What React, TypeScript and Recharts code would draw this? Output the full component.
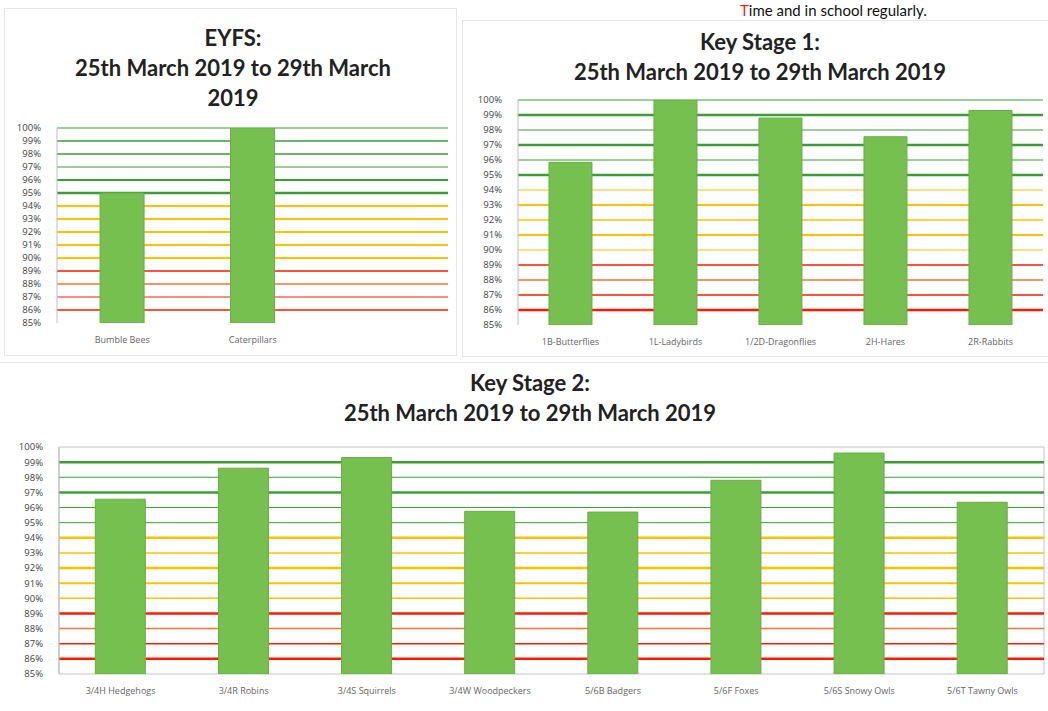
import { BarChart, Bar, XAxis, YAxis, ReferenceLine, ReferenceArea } from 'recharts';

// attendance % per class, week 25th-29th March 2019
const eyfsClasses = ['Bumble Bees', 'Caterpillars'];
const eyfsAttendance = [95.0, 100];

const ks1Classes = ['1B-Butterflies', '1L-Ladybirds', '1/2D-Dragonflies', '2H-Hares', '2R-Rabbits'];
const ks1Attendance = [95.85, 100, 98.8, 97.55, 99.3];

const ks2Classes = [
  '3/4H Hedgehogs',
  '3/4R Robins',
  '3/4S Squirrels',
  '3/4W Woodpeckers',
  '5/6B Badgers',
  '5/6F Foxes',
  '5/6S Snowy Owls',
  '5/6T Tawny Owls',
];
const ks2Attendance = [96.55, 98.6, 99.3, 95.75, 95.7, 97.8, 99.6, 96.35];

const percentTicks = [85, 86, 87, 88, 89, 90, 91, 92, 93, 94, 95, 96, 97, 98, 99, 100];
const dateRange = '25th March 2019 to 29th March 2019';

// line thickness of each coloured band line, per chart
const eyfsWidths: Record<number, number> = {
  100: 1, 99: 1.5, 98: 1.5, 97: 1, 96: 2, 95: 2.5, 94: 2, 93: 2, 92: 2, 91: 2, 90: 2, 89: 1.5, 88: 1.5, 87: 1, 86: 1.5,
};
const ks1Widths: Record<number, number> = {
  100: 1, 99: 2.5, 98: 1, 97: 2.5, 96: 1, 95: 2.5, 94: 1, 93: 2, 92: 1.5, 91: 2, 90: 1, 89: 1.5, 88: 1.5, 87: 1.5, 86: 2.5,
};
const ks2Widths: Record<number, number> = {
  99: 2.5, 98: 1, 97: 2.5, 96: 1, 95: 1, 94: 2.5, 93: 1.5, 92: 2.5, 91: 2, 90: 1.5, 89: 2.5, 88: 1.5, 87: 1.5, 86: 2.5,
};

function levelColor(v: number) {
  if (v >= 95) return '#3d9c38';
  if (v >= 90) return '#ffc000';
  if (v === 88) return '#f2743a';
  return '#ff1a00';
}

const pct = (v: number) => `${v}%`;

function AttendanceChart({ classes, values, widths, width, height, margin, padRight = 0, gap, boxed = false }: any) {
  const data = classes.map((c: string, i: number) => ({ name: c, value: values[i] }));
  const levels = percentTicks.filter((t) => widths[t] !== undefined);
  return (
    <BarChart width={width} height={height} data={data} margin={margin} barCategoryGap={gap}>
      <XAxis
        dataKey="name"
        axisLine={false}
        tickLine={false}
        tickSize={0}
        tickMargin={14}
        interval={0}
        padding={{ left: 0, right: padRight }}
        height={25}
        tick={{ fontSize: 9, fill: '#666', fontFamily: 'Open Sans' }}
      />
      <YAxis
        domain={[85, 100]}
        ticks={percentTicks}
        interval={0}
        allowDataOverflow
        tickFormatter={pct}
        width={45}
        tickLine={false}
        tickMargin={10}
        axisLine={{ stroke: '#bdbdbd' }}
        tick={{ fontSize: 9.5, fill: '#444', fontFamily: 'Open Sans' }}
      />
      {boxed && <ReferenceArea y1={85} y2={100} fill="none" stroke="#c4c4c4" strokeWidth={1} zIndex={0} />}
      {levels.map((lv) => (
        <ReferenceLine key={lv} y={lv} stroke={levelColor(lv)} strokeWidth={widths[lv]} zIndex={0} />
      ))}
      <Bar dataKey="value" fill="#76c04f" stroke="#69ad45" strokeWidth={1} isAnimationActive={false} />
    </BarChart>
  );
}

const titleStyle: React.CSSProperties = {
  position: 'absolute',
  textAlign: 'center',
  fontFamily: 'Lato, "Open Sans", sans-serif',
  fontWeight: 700,
  fontSize: 22,
  lineHeight: '30px',
  color: '#222',
  whiteSpace: 'nowrap',
};

export default function App() {
  return (
    <div
      style={{
        position: 'fixed',
        left: 0,
        top: 0,
        width: 1048,
        height: 711,
        overflow: 'hidden',
        background: '#fff',
      }}
    >
      {/* line of text above the charts (cut in the scan) */}
      <div
        style={{
          position: 'absolute',
          left: 740,
          top: 2,
          fontFamily: 'Lato, sans-serif',
          fontSize: 15,
          lineHeight: '16px',
          color: '#111',
          whiteSpace: 'nowrap',
        }}
      >
        <span style={{ color: '#e8241c' }}>T</span>ime and in school regularly.
      </div>

      {/* panel frames */}
      <div style={{ position: 'absolute', left: 4, top: 8, width: 451, height: 346, border: '1px solid #e6e6e6' }} />
      <div style={{ position: 'absolute', left: 462, top: 20, width: 590, height: 335, border: '1px solid #e6e6e6' }} />
      <div style={{ position: 'absolute', left: -2, top: 362, width: 1054, height: 352, border: '1px solid #e6e6e6' }} />

      {/* EYFS */}
      <div style={{ position: 'absolute', left: 0, top: 0 }}>
        <AttendanceChart
          classes={eyfsClasses}
          values={eyfsAttendance}
          widths={eyfsWidths}
          width={460}
          height={360}
          margin={{ top: 128, right: 12, bottom: 12, left: 12 }}
          padRight={130}
          gap="33%"
        />
      </div>
      <div style={{ ...titleStyle, left: 33, width: 400, top: 23 }}>
        EYFS:
        <br />
        25th March 2019 to 29th March
        <br />
        2019
      </div>

      {/* Key Stage 1 */}
      <div style={{ position: 'absolute', left: 462, top: 0 }}>
        <AttendanceChart
          classes={ks1Classes}
          values={ks1Attendance}
          widths={ks1Widths}
          width={586}
          height={360}
          margin={{ top: 100, right: 5, bottom: 10, left: 11 }}
          gap="29.5%"
        />
      </div>
      <div style={{ ...titleStyle, left: 560, width: 400, top: 27 }}>
        Key Stage 1:
        <br />
        {dateRange}
      </div>

      {/* Key Stage 2 */}
      <div style={{ position: 'absolute', left: 0, top: 360 }}>
        <AttendanceChart
          classes={ks2Classes}
          values={ks2Attendance}
          widths={ks2Widths}
          width={1048}
          height={351}
          margin={{ top: 87, right: 4, bottom: 12, left: 14 }}
          gap="29.5%"
          boxed
        />
      </div>
      <div style={{ ...titleStyle, left: 330, width: 400, top: 368 }}>
        Key Stage 2:
        <br />
        {dateRange}
      </div>
    </div>
  );
}
